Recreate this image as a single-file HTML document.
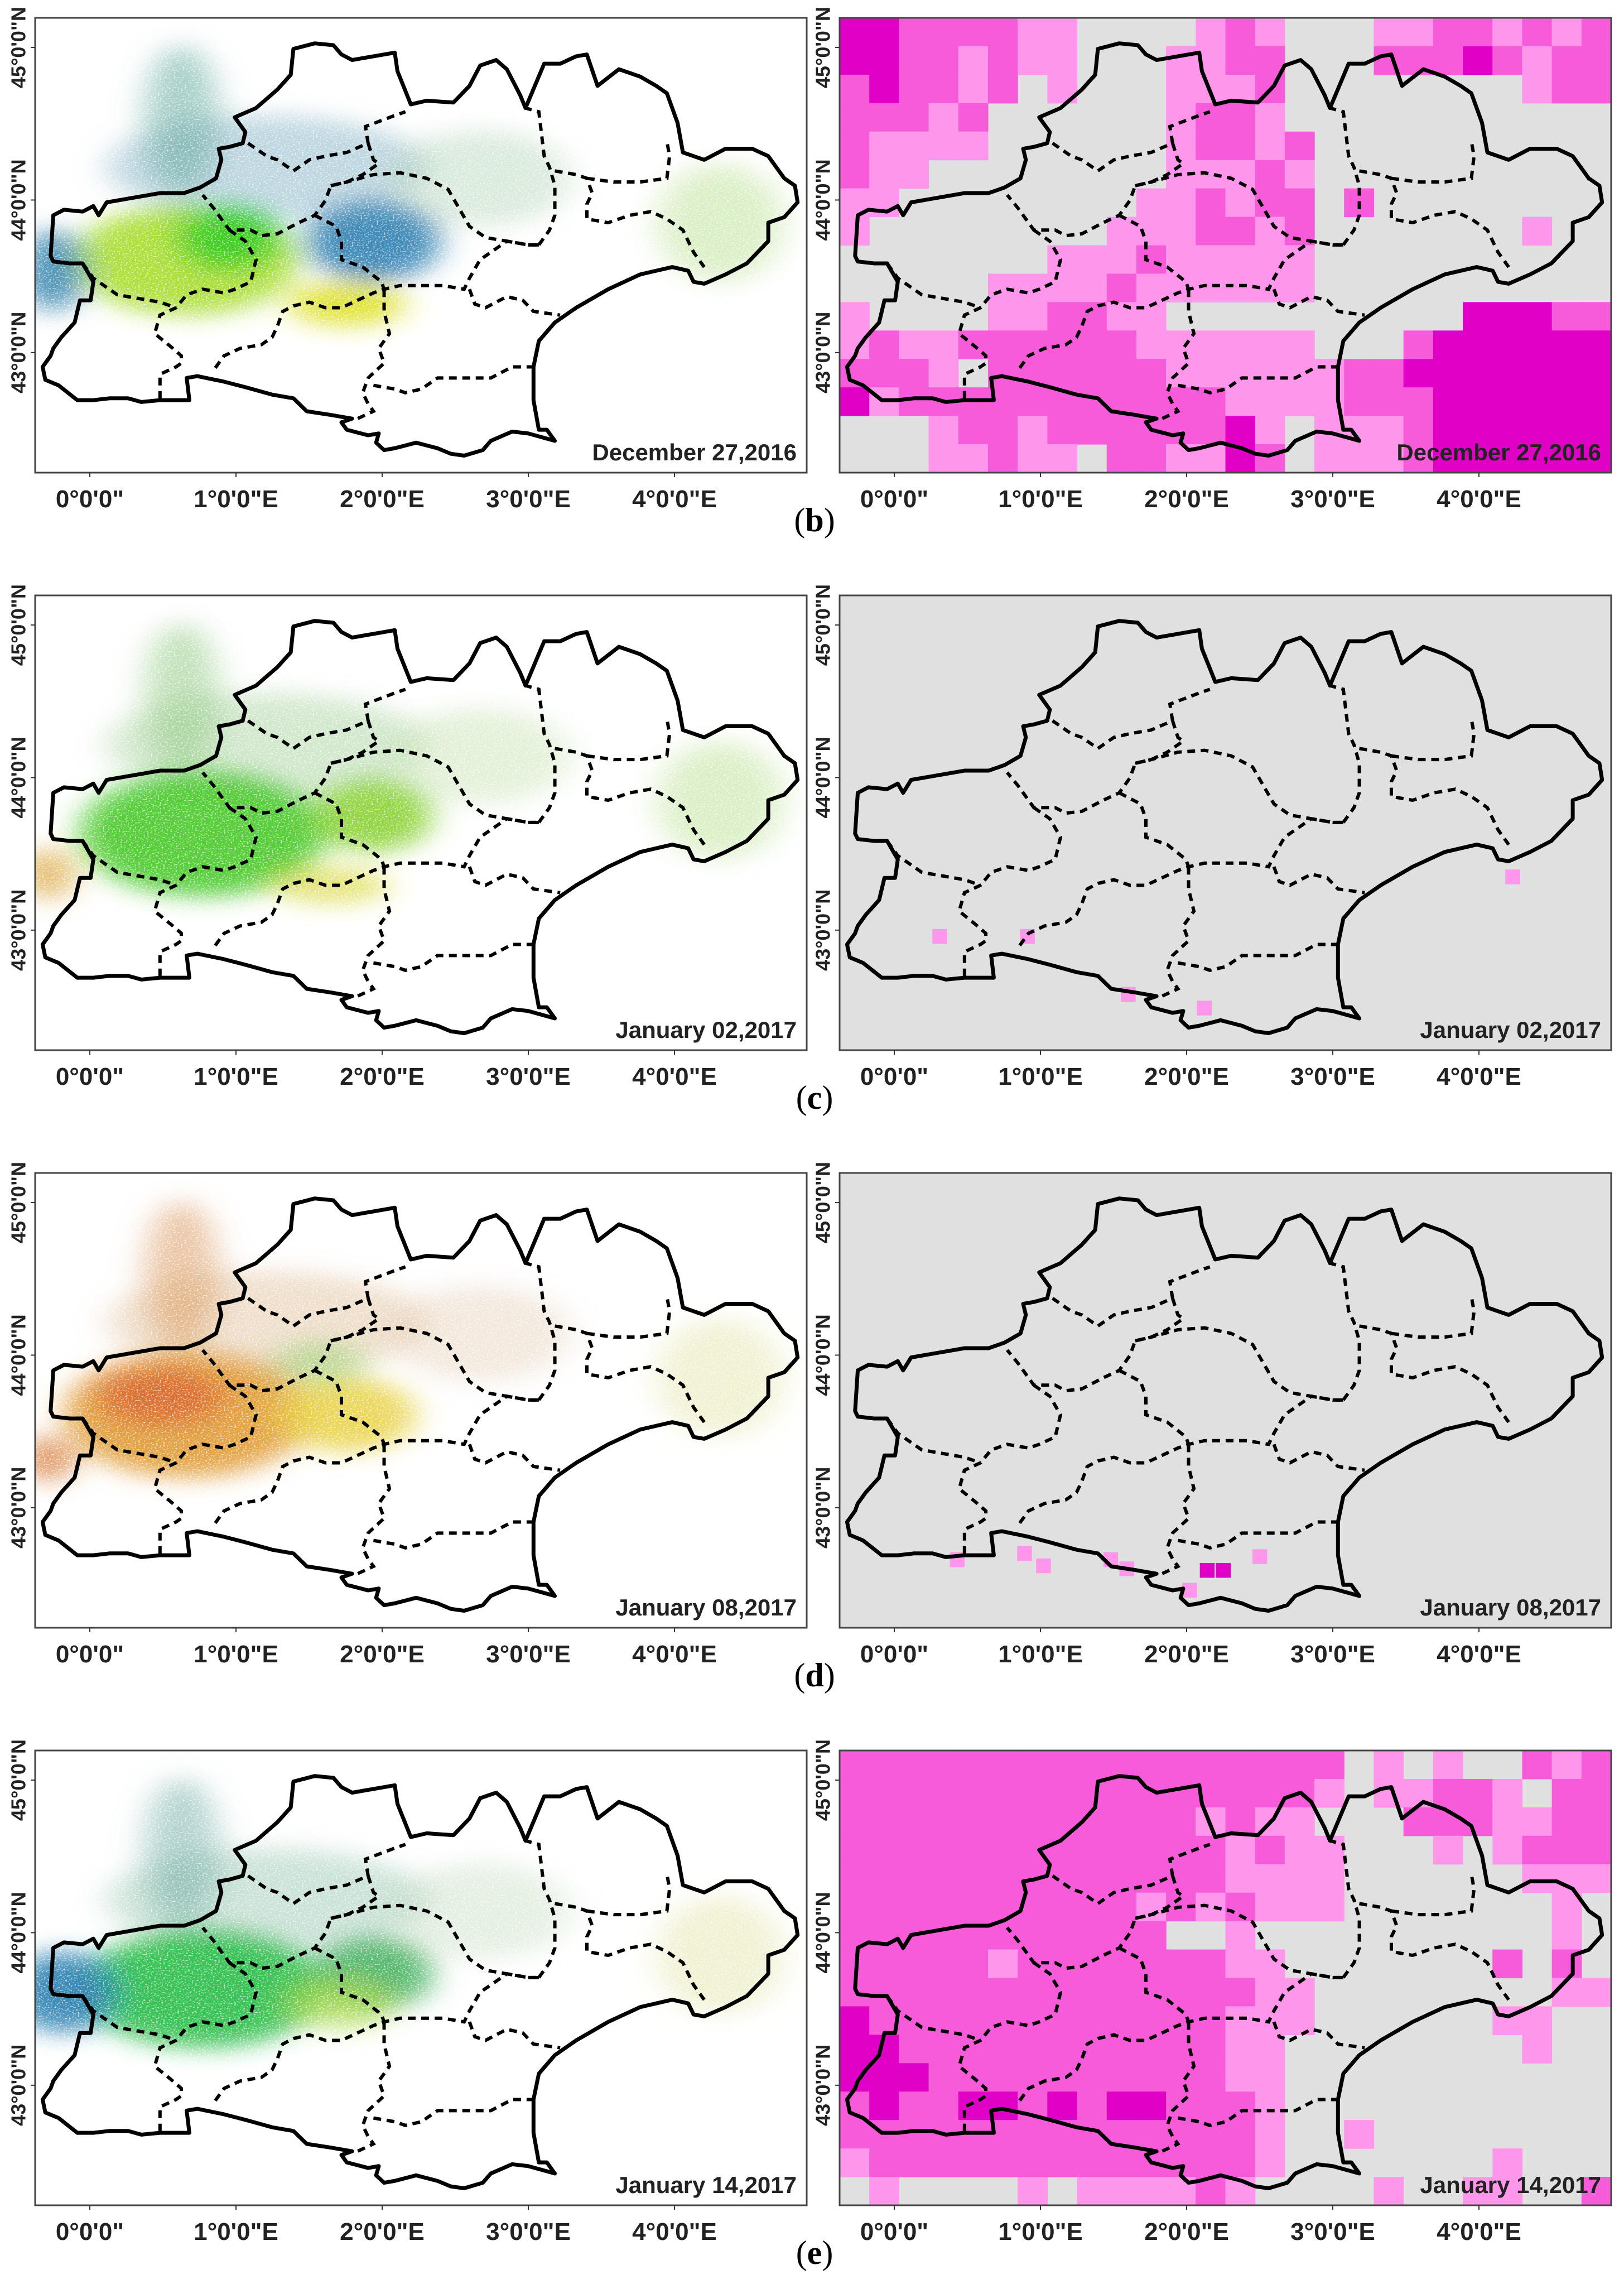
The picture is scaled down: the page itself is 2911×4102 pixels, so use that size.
<!DOCTYPE html>
<html><head><meta charset="utf-8">
<style>
html,body{margin:0;padding:0;background:#fff;}
svg{display:block;}
.ax{font-family:"Liberation Sans Narrow","Liberation Sans",sans-serif;font-weight:bold;fill:#222;}
.lbl{font-family:"Liberation Serif",serif;fill:#000;}
</style></head>
<body>
<svg id="fig" xmlns="http://www.w3.org/2000/svg" width="2911" height="4102" viewBox="0 0 2911 4102">
<defs>
<filter id="blur" x="-50%" y="-50%" width="200%" height="200%">
<feGaussianBlur stdDeviation="30" result="b"/>
<feTurbulence type="fractalNoise" baseFrequency="0.3" numOctaves="1" seed="4" result="n"/>
<feColorMatrix in="n" type="matrix" values="0 0 0 0 0  0 0 0 0 0  0 0 0 0 0  0 0 0 3 -0.45" result="m"/>
<feComposite in="b" in2="m" operator="in"/>
</filter>
</defs>
<g id="root"></g>
</svg>
<script>
const rowTops = [32, 1067, 2102, 3137];
const leftX = 63, rightX = 1505, boxW = 1383, boxH = 815;
const dates = ["December 27,2016", "January 02,2017", "January 08,2017", "January 14,2017"];
const panelLetters = ["b", "c", "d", "e"];
const lonTicks = [0, 1, 2, 3, 4];
const lonTickLabels = ["0°0'0\"", "1°0'0\"E", "2°0'0\"E", "3°0'0\"E", "4°0'0\"E"];
const latTicks = [45, 44, 43];
const latTickLabels = ["45°0'0\"N", "44°0'0\"N", "43°0'0\"N"];
const lonMin = -0.374, lonPx = 262, latMax = 45.194, latPx = 273.4;
const lonX = lon => (lon - lonMin) * lonPx;
const latY = lat => (latMax - lat) * latPx;

const outline = [[95,690],[100,580],[120,565],[155,570],[175,555],[185,580],[200,545],[260,530],[300,520],[345,520],[375,505],[405,480],[415,430],[410,400],[430,395],[455,385],[460,355],[440,315],[480,290],[520,240],[545,200],[550,130],[590,115],[625,120],[640,145],[660,160],[700,150],[740,140],[745,190],[770,280],[800,270],[850,275],[880,230],[900,175],[930,160],[950,185],[975,255],[985,290],[1020,170],[1050,170],[1080,150],[1100,145],[1120,230],[1160,185],[1200,205],[1230,230],[1250,250],[1270,330],[1280,410],[1320,430],[1360,400],[1410,400],[1440,420],[1470,480],[1490,500],[1495,545],[1470,585],[1440,600],[1440,650],[1420,680],[1400,710],[1360,740],[1320,765],[1300,760],[1290,730],[1260,720],[1200,740],[1140,780],[1080,830],[1040,870],[1010,920],[1000,990],[1000,1080],[1010,1160],[1025,1160],[1040,1190],[990,1170],[960,1165],[920,1190],[905,1215],[870,1230],[845,1225],[820,1210],[780,1195],[740,1210],[720,1215],[705,1195],[710,1170],[690,1175],[650,1160],[640,1140],[660,1130],[620,1120],[575,1110],[550,1075],[510,1065],[460,1045],[420,1030],[370,1015],[350,1020],[355,1080],[300,1080],[265,1085],[240,1075],[205,1075],[175,1080],[145,1080],[110,1040],[85,1025],[80,990],[95,960],[100,940],[115,910],[140,870],[150,810],[170,810],[175,760],[155,710],[130,710],[100,705]];
const borders = [
 [[465,385],[500,420],[520,430],[550,460],[580,430],[610,420],[650,410],[690,385],[685,340],[740,310],[760,300]],
 [[690,385],[700,430],[710,440],[680,470],[650,490],[620,500],[610,540],[590,580],[560,600],[520,630],[490,635],[470,620],[430,620],[410,580],[400,560],[380,525]],
 [[620,500],[650,490],[700,470],[750,465],[800,480],[840,510],[860,560],[880,610],[910,640],[950,650],[990,660],[1010,660]],
 [[590,580],[630,610],[640,650],[640,700],[680,720],[715,760],[720,780],[700,790],[670,810],[640,830],[610,830],[580,815],[550,825],[530,840],[520,880],[510,910],[490,930],[450,940],[420,960],[400,1000]],
 [[430,620],[460,650],[480,700],[470,760],[440,780],[420,790],[380,780],[350,795],[330,830],[300,850],[290,900],[320,935],[340,960],[340,980],[330,990],[300,1010],[300,1080]],
 [[155,710],[175,750],[220,795],[260,805],[300,815],[330,830]],
 [[1010,660],[1030,620],[1040,580],[1040,500],[1030,450],[1020,420],[1010,300],[985,290]],
 [[1040,460],[1080,470],[1100,480],[1110,520],[1100,550],[1100,590],[1140,600],[1180,580],[1220,570],[1250,590],[1280,620],[1300,680],[1320,720]],
 [[1100,480],[1150,490],[1200,490],[1250,480],[1255,420],[1250,380]],
 [[1010,660],[990,660],[950,650],[900,700],[880,750],[870,780],[830,770],[790,770],[750,770],[720,780]],
 [[880,780],[890,820],[910,830],[950,800],[980,810],[1000,840],[1050,850]],
 [[720,780],[720,840],[730,900],[710,940],[720,980],[690,1020],[680,1060],[690,1090],[700,1110],[670,1130]],
 [[700,1040],[740,1050],[760,1060],[790,1050],[820,1020],[860,1020],[920,1020],[960,990],[1000,990]]
];

const blobsB = [[500,450,300,140,"#7fb0c4",0.5],[340,320,70,200,"#5fa89a",0.55],[900,480,170,130,"#a6ccaa",0.4],[1350,600,120,160,"#b8e090",0.5],[350,700,210,150,"#a6dc2a",0.9],[430,640,100,90,"#33cc22",0.9],[700,650,125,110,"#2e7fb0",0.9],[100,730,60,110,"#3a88b0",0.9],[650,820,110,60,"#dde020",0.9]];
const blobsC = [[500,450,300,140,"#9ccc90",0.45],[340,320,70,200,"#8ec880",0.55],[900,480,170,130,"#bcdca0",0.4],[1350,600,120,160,"#b8e090",0.5],[380,690,230,170,"#44c822",0.9],[700,640,110,100,"#88d030",0.9],[90,800,50,70,"#d8a030",0.7],[620,830,110,50,"#d8d838",0.7]];
const blobsD = [[500,450,300,140,"#d8b080",0.4],[340,320,70,200,"#d89050",0.5],[900,480,170,130,"#dcc0a0",0.35],[1350,600,120,160,"#dcdc90",0.4],[350,700,230,170,"#e09a30",0.9],[300,650,120,80,"#d4502a",0.6],[650,700,130,100,"#e8d040",0.85],[600,560,90,60,"#8ccc60",0.5],[90,820,50,60,"#d06a20",0.7]];
const blobsE = [[500,450,300,140,"#8cc0a8",0.45],[340,320,70,200,"#6aa8a0",0.5],[900,480,170,130,"#b4d0b0",0.35],[1350,600,120,160,"#dcdc90",0.4],[380,690,230,160,"#22bb44",0.9],[120,700,100,110,"#2a7fb0",0.9],[700,650,110,100,"#44b060",0.9],[640,730,100,70,"#a8d840",0.7]];
const blobSets = [blobsB, blobsC, blobsD, blobsE];

const gridB = ["33222211....121...11221212","33221211...1122...22232122","232212.1...1112........122","22212......1221...........","21111......12212..........","211........11121..........","11........112122.2........","1........1112212.......1..",".......111211111..........",".....11112111111..........","1....112211..........33322","1211222222111111...2333333","2221.222222111111223333333","31222222222221111222333333","...122122222231.1112333333","...11211.221132.1112333333"];
const gridE = ["22222222222222222.1.1..212","22222222222222221.11221.22","2222222222221211...2221122","22222222222221211...1.1222","22222222222221111......111","22222222221212111.......1.","22222222222..1..........1.","222221222222211.......2.2.","2222222222222211........11","3222222222222111......11..","332222222222211........1..","333222222222211...........","232233232332221...........","222222222222221..1........","122222222222221.......1...",".1....1.111121....1..11..2"];
const cellsC = [[0.31,42.96,1],[0.91,42.96,1],[1.60,42.58,1],[2.12,42.49,1],[4.23,43.35,1]];
const cellsD = [[0.43,42.66,1],[0.89,42.70,1],[1.02,42.62,1],[1.48,42.66,1],[1.59,42.60,1],[2.14,42.59,3],[2.25,42.59,3],[2.02,42.46,1],[2.50,42.68,1]];
const grids = [gridB, null, null, gridE];
const fineCells = [null, cellsC, cellsD, null];
const levelColors = ["#e0e0e0", "#fe97ec", "#f65bd9", "#e100c6"];

const NS = "http://www.w3.org/2000/svg";
const root = document.getElementById("root");
function el(tag, attrs, parent) {
  const e = document.createElementNS(NS, tag);
  for (const k in attrs) e.setAttribute(k, attrs[k]);
  (parent || root).appendChild(e);
  return e;
}
const ptsStr = a => a.map(p => p[0] + "," + p[1]).join(" ");

function mapOverlay(g) {
  const o = el("polygon", {points: ptsStr(outline), fill: "none", stroke: "#000", "stroke-width": 7, "stroke-linejoin": "round", "vector-effect": "non-scaling-stroke"}, g);
  
  
  borders.forEach(b => {
    const l = el("polyline", {points: ptsStr(b), fill: "none", stroke: "#000", "stroke-width": 6, "stroke-dasharray": "14 10", "vector-effect": "non-scaling-stroke"}, g);
    
    
  });
}

function axes(px, top, side) {
  lonTicks.forEach((lon, i) => {
    const x = px + lonX(lon);
    el("line", {x1: x, y1: top + boxH, x2: x, y2: top + boxH + 8, stroke: "#333", "stroke-width": 2});
    const t = el("text", {x: x, y: top + boxH + 62, "text-anchor": "middle", class: "ax", "font-size": 44}, root);
    t.textContent = lonTickLabels[i];
    
    
  });
  latTicks.forEach((lat, i) => {
    const y = top + latY(lat);
    el("line", {x1: px - 8, y1: y, x2: px, y2: y, stroke: "#333", "stroke-width": 2});
    const cx = px - 30;
    const t = el("text", {x: cx, y: y, transform: "rotate(-90 " + cx + " " + y + ")", "text-anchor": "middle", "dominant-baseline": "central", class: "ax", "font-size": 36}, root);
    t.textContent = latTickLabels[i];
    
    
  });
  const d = el("text", {x: px + boxW - 18, y: top + boxH - 22, "text-anchor": "end", class: "ax", "font-size": 42}, root);
  d.textContent = dates[rowTops.indexOf(top)];
  
  
}

rowTops.forEach((top, r) => {
  const lg = el("g", {});
  
  
  el("rect", {x: leftX, y: top, width: boxW, height: boxH, fill: "#fff"}, lg);
  const clipId = "clipL" + r;
  const cp = el("clipPath", {id: clipId}, lg);
  el("rect", {x: leftX, y: top, width: boxW, height: boxH}, cp);
  const inner = el("g", {"clip-path": "url(#" + clipId + ")"}, lg);
  const tf = "translate(" + (leftX - 63.1) + "," + (top - 30.5) + ") scale(0.9564,0.6626)";
  const bg = el("g", {transform: tf, filter: "url(#blur)"}, inner);
  blobSets[r].forEach(b => {
    const e = el("ellipse", {cx: b[0], cy: b[1], rx: b[2], ry: b[3], fill: b[4], opacity: b[5]}, bg);
    
    
  });
  const mg = el("g", {transform: tf}, inner);
  mapOverlay(mg);
  el("rect", {x: leftX, y: top, width: boxW, height: boxH, fill: "none", stroke: "#444", "stroke-width": 3}, lg);
  axes(leftX, top, "left");

  const rg = el("g", {});
  
  
  el("rect", {x: rightX, y: top, width: boxW, height: boxH, fill: levelColors[0]}, rg);
  const grid = grids[r];
  if (grid) {
    const cw = boxW / 26, ch = boxH / 16;
    grid.forEach((row, i) => {
      for (let j = 0; j < 26; j++) {
        const lv = "0123".indexOf(row[j] === "." ? "0" : row[j]);
        if (lv > 0) {
          const c = el("rect", {x: rightX + j * cw, y: top + i * ch, width: cw + 0.6, height: ch + 0.6, fill: levelColors[lv]}, rg);
          
          
        }
      }
    });
  }
  const fc = fineCells[r];
  if (fc) {
    fc.forEach(c => {
      const e = el("rect", {x: rightX + lonX(c[0]) - 13, y: top + latY(c[1]) - 13, width: 26.5, height: 26.5, fill: levelColors[c[2]]}, rg);
      
      
    });
  }
  const rmg = el("g", {transform: "translate(" + (rightX - 63.1) + "," + (top - 30.5) + ") scale(0.9564,0.6626)"}, rg);
  mapOverlay(rmg);
  el("rect", {x: rightX, y: top, width: boxW, height: boxH, fill: "none", stroke: "#444", "stroke-width": 3}, rg);
  axes(rightX, top, "right");

  const L = el("text", {x: 1460, y: top + 920, "text-anchor": "middle", class: "lbl", "font-size": 60});
  
  
  const t1 = el("tspan", {}, L); t1.textContent = "(";
  const t2 = el("tspan", {"font-weight": "bold"}, L); t2.textContent = panelLetters[r];
  const t3 = el("tspan", {}, L); t3.textContent = ")";
});
</script>
</body></html>
